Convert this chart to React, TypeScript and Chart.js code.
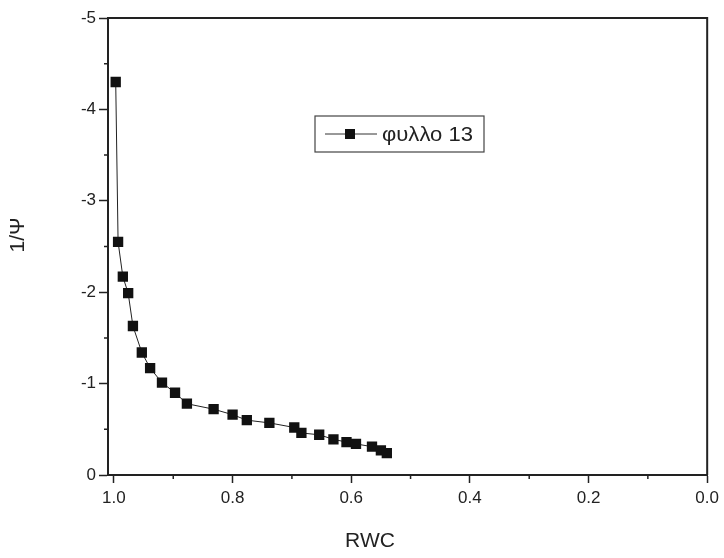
import React, { useEffect, useRef } from "react";
import { Chart, registerables } from "chart.js";

Chart.register(...registerables);

const rwc = [0.997, 0.993, 0.985, 0.976, 0.968, 0.953, 0.939, 0.919, 0.897, 0.877, 0.832, 0.8, 0.776, 0.738, 0.696, 0.684, 0.654, 0.63, 0.608, 0.592, 0.565, 0.55, 0.54];
const invPsi = [-4.3, -2.55, -2.17, -1.99, -1.63, -1.34, -1.17, -1.01, -0.9, -0.78, -0.72, -0.66, -0.6, -0.57, -0.52, -0.46, -0.44, -0.39, -0.36, -0.34, -0.31, -0.27, -0.24];
const xTicks = [1.0, 0.8, 0.6, 0.4, 0.2, 0.0];
const xMinorTicks = [0.9, 0.7, 0.5, 0.3, 0.1];
const yTicks = [-5, -4, -3, -2, -1, 0];
const yMinorTicks = [-4.5, -3.5, -2.5, -1.5, -0.5];
const seriesLabel = "φυλλο 13";
const xTitle = "RWC";
const yTitle = "1/Ψ";

const FONT = '"Liberation Sans", Arial, sans-serif';
const INK = "#222";

const decorPlugin = {
  id: "decor",
  afterDraw(chart: any) {
    const { ctx, chartArea: a, scales } = chart;
    ctx.save();
    // frame top & right
    ctx.strokeStyle = INK;
    ctx.lineWidth = 2;
    ctx.beginPath();
    ctx.moveTo(a.left, a.top);
    ctx.lineTo(a.right, a.top);
    ctx.lineTo(a.right, a.bottom);
    ctx.stroke();
    // minor ticks
    ctx.lineWidth = 1.5;
    ctx.beginPath();
    for (const v of xMinorTicks) {
      const px = scales.x.getPixelForValue(v);
      ctx.moveTo(px, a.bottom);
      ctx.lineTo(px, a.bottom + 4);
    }
    for (const v of yMinorTicks) {
      const py = scales.y.getPixelForValue(v);
      ctx.moveTo(a.left, py);
      ctx.lineTo(a.left - 4, py);
    }
    ctx.stroke();
    // axis titles
    ctx.fillStyle = INK;
    ctx.font = `21px ${FONT}`;
    ctx.textAlign = "center";
    ctx.textBaseline = "middle";
    ctx.fillText(xTitle, a.left + 262, a.bottom + 66);
    ctx.save();
    ctx.translate(a.left - 90, a.top + 217);
    ctx.rotate(-Math.PI / 2);
    ctx.fillText(yTitle, 0, 0);
    ctx.restore();
    // legend
    const bx = a.left + 207, by = a.top + 98, bw = 169, bh = 36;
    ctx.fillStyle = "#fff";
    ctx.fillRect(bx, by, bw, bh);
    ctx.strokeStyle = "#444";
    ctx.lineWidth = 1.2;
    ctx.strokeRect(bx, by, bw, bh);
    const ly = by + bh / 2;
    ctx.strokeStyle = "#333";
    ctx.lineWidth = 1;
    ctx.beginPath();
    ctx.moveTo(bx + 10, ly);
    ctx.lineTo(bx + 62, ly);
    ctx.stroke();
    ctx.fillStyle = "#111";
    ctx.fillRect(bx + 30, ly - 5, 10, 10);
    ctx.fillStyle = INK;
    ctx.font = `20px ${FONT}`;
    ctx.textAlign = "left";
    const w = ctx.measureText(seriesLabel).width;
    const sx = w > 0 ? Math.min(1.15, 91 / w) : 1;
    ctx.save();
    ctx.translate(bx + 67, ly + 1);
    ctx.scale(sx, 1);
    ctx.fillText(seriesLabel, 0, 0);
    ctx.restore();
    ctx.restore();
  },
};

export default function App() {
  const ref = useRef<HTMLCanvasElement>(null);
  useEffect(() => {
    if (!ref.current) return;
    const chart = new Chart(ref.current, {
      type: "line",
      data: {
        datasets: [
          {
            label: seriesLabel,
            data: rwc.map((x, i) => ({ x, y: invPsi[i] })),
            borderColor: "#222",
            borderWidth: 1,
            backgroundColor: "#111",
            pointBackgroundColor: "#111",
            pointBorderColor: "#111",
            pointBorderWidth: 0,
            pointStyle: "rect",
            pointRadius: 7.3,
            tension: 0,
          },
        ],
      },
      options: {
        responsive: false,
        animation: false,
        layout: { padding: { left: 0, right: 15, top: 18, bottom: 0 } },
        plugins: { legend: { display: false }, tooltip: { enabled: false } },
        scales: {
          x: {
            type: "linear",
            min: 0,
            max: 1.01,
            reverse: true,
            afterBuildTicks: (s: any) => {
              s.ticks = xTicks.map((value) => ({ value }));
            },
            afterFit: (s: any) => {
              s.height = 83;
            },
            ticks: {
              callback: (v: any) => Number(v).toFixed(1),
              font: { family: FONT, size: 17 },
              color: INK,
              padding: 5,
              maxRotation: 0,
              autoSkip: false,
            },
            grid: {
              display: true,
              drawOnChartArea: false,
              drawTicks: true,
              tickLength: 8,
              tickColor: INK,
              tickWidth: 1.5,
            },
            border: { display: true, color: INK, width: 2 },
          },
          y: {
            type: "linear",
            min: -5,
            max: 0,
            reverse: true,
            afterBuildTicks: (s: any) => {
              s.ticks = yTicks.map((value) => ({ value }));
            },
            afterFit: (s: any) => {
              s.width = 108;
            },
            ticks: {
              callback: (v: any) => String(v),
              font: { family: FONT, size: 17 },
              color: INK,
              padding: 3,
              autoSkip: false,
            },
            grid: {
              display: true,
              drawOnChartArea: false,
              drawTicks: true,
              tickLength: 9,
              tickColor: INK,
              tickWidth: 1.5,
            },
            border: { display: true, color: INK, width: 2 },
          },
        },
      },
      plugins: [decorPlugin],
    });
    return () => chart.destroy();
  }, []);
  return (
    <div style={{ position: "fixed", left: 0, top: 0, width: 724, height: 558, background: "#fff" }}>
      <canvas ref={ref} width={724} height={558} style={{ display: "block" }} />
    </div>
  );
}
